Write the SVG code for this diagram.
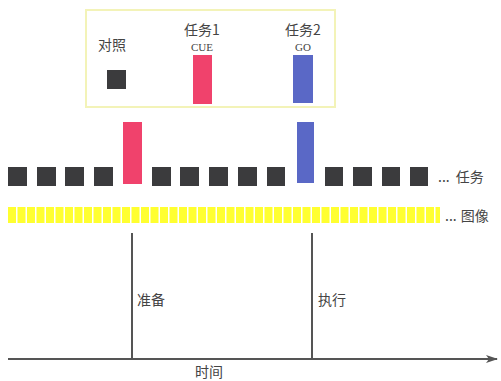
<svg xmlns="http://www.w3.org/2000/svg" width="501" height="381" viewBox="0 0 501 381">
<defs>
<style>
.t{font-family:"Noto Sans CJK SC","Liberation Serif",serif;font-size:14px;fill:#444}
.s{font-family:"Liberation Serif",serif;font-size:11px;fill:#444}
.sq{fill:#3b3b3d}
.pk{fill:#f0426c}
.bl{fill:#5a68c6}
.ln{stroke:#555;stroke-width:2;fill:none}
</style>
<marker id="ah" viewBox="0 0 12 8" refX="11" refY="4" markerWidth="12" markerHeight="8" markerUnits="userSpaceOnUse" orient="auto">
<path d="M0,0 L12,4 L0,8 L3,4 Z" fill="#555"/>
</marker>
</defs>
<rect width="501" height="381" fill="#fff"/>
<g id="legend">
<rect x="86" y="10" width="249" height="97" fill="#fff" stroke="#f3f3b8" stroke-width="2"/>
<text class="t" x="112" y="50" text-anchor="middle">对照</text>
<rect class="sq" x="107" y="70" width="19" height="19"/>
<text class="t" x="202" y="35" text-anchor="middle">任务1</text>
<text class="s" x="202" y="51" text-anchor="middle">CUE</text>
<rect class="pk" x="193" y="55" width="19" height="49"/>
<text class="t" x="303" y="35" text-anchor="middle">任务2</text>
<text class="s" x="303" y="51" text-anchor="middle">GO</text>
<rect class="bl" x="293" y="55" width="20" height="48"/>
</g>
<g id="task-row">
<rect class="sq" x="8" y="167" width="19" height="19"/>
<rect class="sq" x="37" y="167" width="19" height="19"/>
<rect class="sq" x="65" y="167" width="19" height="19"/>
<rect class="sq" x="94" y="167" width="19" height="19"/>
<rect class="pk" x="123" y="122" width="19" height="62"/>
<rect class="sq" x="152" y="167" width="19" height="19"/>
<rect class="sq" x="180" y="167" width="19" height="19"/>
<rect class="sq" x="209" y="167" width="19" height="19"/>
<rect class="sq" x="238" y="167" width="19" height="19"/>
<rect class="sq" x="267" y="167" width="18" height="19"/>
<rect class="bl" x="297" y="122" width="17" height="61"/>
<rect class="sq" x="325" y="167" width="18" height="19"/>
<rect class="sq" x="353" y="167" width="19" height="19"/>
<rect class="sq" x="382" y="167" width="18" height="19"/>
<rect class="sq" x="410" y="167" width="18" height="19"/>
<text class="t" x="438" y="182">...<tspan dx="6">任务</tspan></text>
</g>
<g id="image-row">
<line x1="8" y1="215" x2="440" y2="215" stroke="#ffff30" stroke-width="16" stroke-dasharray="8 1.5"/>
<text class="t" x="445" y="221">...<tspan dx="4">图像</tspan></text>
</g>
<g id="connectors">
<line class="ln" x1="132" y1="233" x2="132" y2="359"/>
<line class="ln" x1="312" y1="233" x2="312" y2="359"/>
<line class="ln" x1="8" y1="359" x2="497" y2="359" marker-end="url(#ah)"/>
</g>
<g id="labels">
<text class="t" x="137" y="305">准备</text>
<text class="t" x="318" y="305">执行</text>
<text class="t" x="195" y="377">时间</text>
</g>
</svg>
